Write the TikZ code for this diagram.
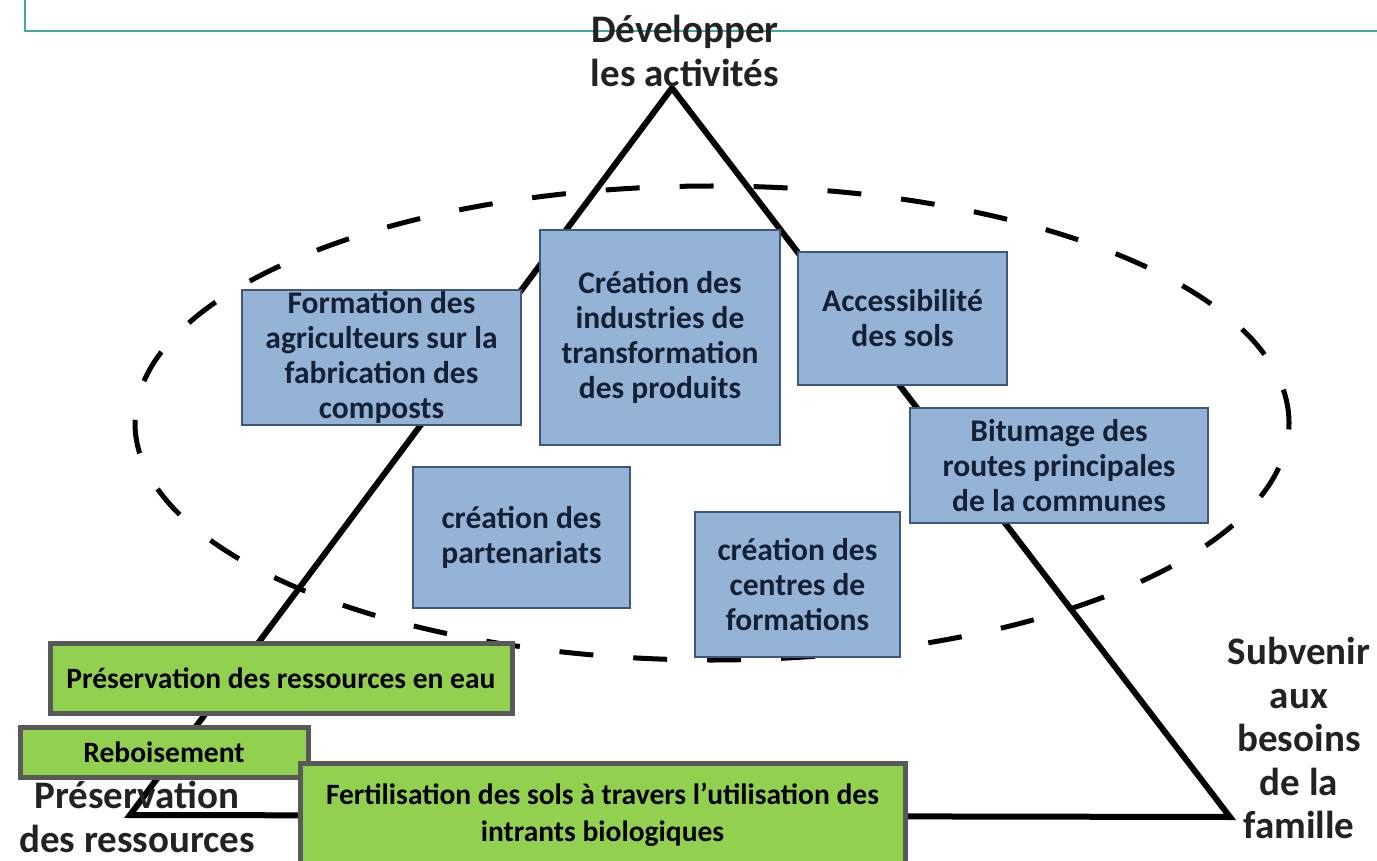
\documentclass[tikz,border=0pt]{standalone}
\usepackage{fontspec}
\setmainfont{Carlito}
\usetikzlibrary{positioning}
\definecolor{boxblue}{RGB}{149,179,215}
\definecolor{boxedge}{RGB}{62,88,124}
\definecolor{navytext}{RGB}{22,32,52}
\definecolor{leafgreen}{RGB}{146,208,80}
\definecolor{greyedge}{RGB}{89,89,89}
\definecolor{frameteal}{RGB}{62,170,162}
\definecolor{labelgrey}{RGB}{34,34,34}

\begin{document}
\begin{tikzpicture}[x=1pt, y=-1pt,
        bluebox/.style={rectangle, draw=boxedge, line width=1.5pt, fill=boxblue, align=center, inner sep=0pt, text=navytext, font=\bfseries\fontsize{31.5}{35}\selectfont},
        greenbox/.style={rectangle, draw=greyedge, line width=5pt, fill=leafgreen, align=center, inner sep=0pt, font=\bfseries\fontsize{29.5}{37}\selectfont},
        corner/.style={align=center, text=labelgrey, font=\bfseries\fontsize{39}{43.5}\selectfont},
        side/.style={line width=6pt, line join=miter},
        ring/.style={line width=5pt, dash pattern=on 34pt off 40pt}
    ]
    \useasboundingbox (0,0) rectangle (1377,861);

    % page frame
    \draw[frameteal, line width=2pt] (25,0) -- (25,31) -- (1377,31);

    % triangle and dashed ellipse
    \coordinate (apex) at (672,88);
    \coordinate (leftfoot) at (130,815);
    \coordinate (rightfoot) at (1230,817);
    \draw[side] (apex) -- (leftfoot) -- (rightfoot) -- cycle;
    \draw[ring] (712,423) ellipse [x radius=577pt, y radius=237pt];

    % corner labels
    \node[corner] (develop) at (685,51) {Développer\\les activités};
    \node[corner] (famille) at (1299,738) {Subvenir\\aux\\besoins\\de la\\famille};
    \node[corner] (preserv) at (137,817) {Préservation\\des ressources};

    % actions
    \node[bluebox, minimum width=279pt, minimum height=135pt] (compost) at (381.5,357.5) {Formation des\\agriculteurs sur la\\fabrication des\\composts};
    \node[bluebox, minimum width=240pt, minimum height=215pt] (industrie) at (660,337.5) {Création des\\industries de\\transformation\\des produits};
    \node[bluebox, minimum width=209pt, minimum height=133pt] (acces) at (902.5,318.5) {Accessibilité\\des sols};
    \node[bluebox, minimum width=298pt, minimum height=115pt] (bitume) at (1059,465.5) {Bitumage des\\routes principales\\de la communes};
    \node[bluebox, minimum width=217pt, minimum height=141pt] (partenaire) at (521.5,537.5) {création des\\partenariats};
    \node[bluebox, minimum width=205pt, minimum height=145pt] (centre) at (797.5,584.5) {création des\\centres de\\formations};

    \node[greenbox, minimum width=462pt, minimum height=70pt] (eau) at (281,678) {Préservation des ressources en eau};
    \node[greenbox, minimum width=288pt, minimum height=50pt] (reboise) at (164,752) {Reboisement};
    \node[greenbox, minimum width=605pt, minimum height=104pt] (fertil) at (602.5,815) {Fertilisation des sols à travers l’utilisation des\\intrants biologiques};
\end{tikzpicture}
\end{document}
